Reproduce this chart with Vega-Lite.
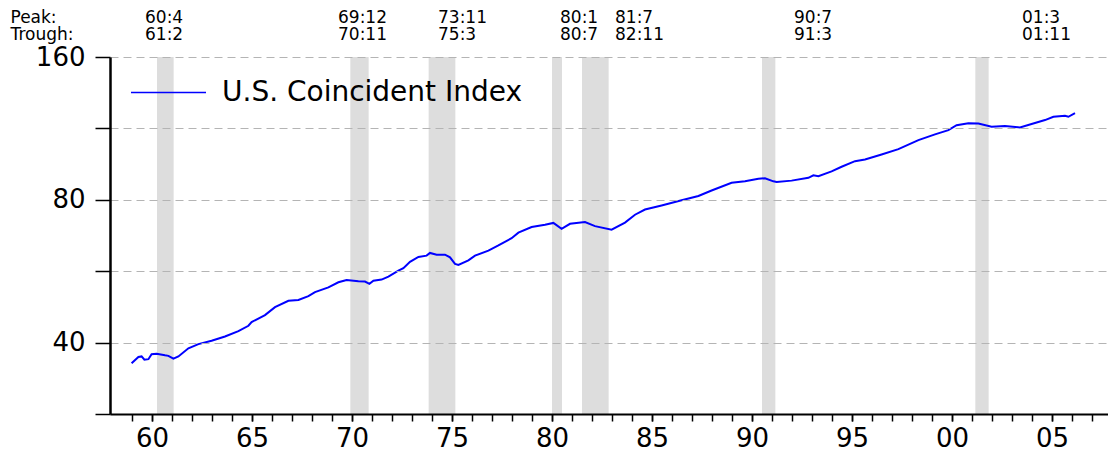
{
  "$schema": "https://vega.github.io/schema/vega-lite/v6.json",
  "padding": {"left": 10, "top": 8, "right": 0, "bottom": 0},
  "spacing": 1,
  "background": "white",
  "config": {
    "view": {"stroke": null},
    "font": "DejaVu Sans",
    "text": {"font": "DejaVu Sans"}
  },
  "datasets": {
    "recessions": [
      {"peak": "60:4", "trough": "61:2", "peakDate": 1960.25, "troughDate": 1961.083, "labelYear": 1959.65},
      {"peak": "69:12", "trough": "70:11", "peakDate": 1969.917, "troughDate": 1970.833, "labelYear": 1969.3},
      {"peak": "73:11", "trough": "75:3", "peakDate": 1973.833, "troughDate": 1975.167, "labelYear": 1974.3},
      {"peak": "80:1", "trough": "80:7", "peakDate": 1980.0, "troughDate": 1980.5, "labelYear": 1980.4},
      {"peak": "81:7", "trough": "82:11", "peakDate": 1981.5, "troughDate": 1982.833, "labelYear": 1983.15},
      {"peak": "90:7", "trough": "91:3", "peakDate": 1990.5, "troughDate": 1991.167, "labelYear": 1992.1},
      {"peak": "01:3", "trough": "01:11", "peakDate": 2001.167, "troughDate": 2001.833, "labelYear": 2003.5}
    ],
    "index": [
      {"year": 1958.98, "index": 36.2},
      {"year": 1959.32, "index": 37.3},
      {"year": 1959.48, "index": 37.4},
      {"year": 1959.62, "index": 36.8},
      {"year": 1959.82, "index": 36.9},
      {"year": 1959.98, "index": 37.8},
      {"year": 1960.23, "index": 37.9},
      {"year": 1960.65, "index": 37.6},
      {"year": 1960.82, "index": 37.5},
      {"year": 1961.07, "index": 37.0},
      {"year": 1961.32, "index": 37.4},
      {"year": 1961.82, "index": 38.9},
      {"year": 1962.32, "index": 39.7},
      {"year": 1962.98, "index": 40.35},
      {"year": 1963.65, "index": 41.2},
      {"year": 1964.32, "index": 42.3},
      {"year": 1964.82, "index": 43.4},
      {"year": 1964.98, "index": 44.2},
      {"year": 1965.65, "index": 45.7},
      {"year": 1966.15, "index": 47.5},
      {"year": 1966.82, "index": 49.0},
      {"year": 1967.32, "index": 49.2},
      {"year": 1967.82, "index": 50.1},
      {"year": 1968.15, "index": 51.1},
      {"year": 1968.82, "index": 52.3},
      {"year": 1969.32, "index": 53.6},
      {"year": 1969.73, "index": 54.2},
      {"year": 1970.32, "index": 53.9},
      {"year": 1970.65, "index": 53.8},
      {"year": 1970.87, "index": 53.2},
      {"year": 1971.07, "index": 54.0},
      {"year": 1971.48, "index": 54.3},
      {"year": 1971.82, "index": 55.1},
      {"year": 1972.32, "index": 56.7},
      {"year": 1972.57, "index": 57.4},
      {"year": 1972.9, "index": 59.2},
      {"year": 1973.32, "index": 60.6},
      {"year": 1973.73, "index": 61.0},
      {"year": 1973.9, "index": 61.8},
      {"year": 1974.23, "index": 61.3},
      {"year": 1974.65, "index": 61.3},
      {"year": 1974.9, "index": 60.5},
      {"year": 1975.15, "index": 58.6},
      {"year": 1975.32, "index": 58.3},
      {"year": 1975.82, "index": 59.6},
      {"year": 1976.15, "index": 61.0},
      {"year": 1976.82, "index": 62.5},
      {"year": 1977.32, "index": 64.1},
      {"year": 1977.98, "index": 66.4},
      {"year": 1978.32, "index": 68.2},
      {"year": 1978.98, "index": 70.1},
      {"year": 1979.65, "index": 70.9},
      {"year": 1980.07, "index": 71.5},
      {"year": 1980.48, "index": 69.5},
      {"year": 1980.9, "index": 71.2},
      {"year": 1981.65, "index": 71.8},
      {"year": 1982.15, "index": 70.4},
      {"year": 1982.98, "index": 69.2},
      {"year": 1983.65, "index": 71.6},
      {"year": 1984.15, "index": 74.4},
      {"year": 1984.65, "index": 76.3},
      {"year": 1985.48, "index": 77.8},
      {"year": 1986.48, "index": 79.8},
      {"year": 1987.32, "index": 81.5},
      {"year": 1987.98, "index": 83.7},
      {"year": 1988.98, "index": 86.9},
      {"year": 1989.65, "index": 87.5},
      {"year": 1990.32, "index": 88.6},
      {"year": 1990.65, "index": 88.8},
      {"year": 1991.07, "index": 87.5},
      {"year": 1991.23, "index": 87.2},
      {"year": 1991.98, "index": 87.8},
      {"year": 1992.82, "index": 89.0},
      {"year": 1993.07, "index": 90.1},
      {"year": 1993.32, "index": 89.7},
      {"year": 1993.98, "index": 91.8},
      {"year": 1994.48, "index": 93.9},
      {"year": 1995.15, "index": 96.5},
      {"year": 1995.65, "index": 97.3},
      {"year": 1996.48, "index": 99.7},
      {"year": 1997.32, "index": 102.3},
      {"year": 1998.32, "index": 106.9},
      {"year": 1999.15, "index": 109.9},
      {"year": 1999.82, "index": 112.2},
      {"year": 2000.23, "index": 114.9},
      {"year": 2000.82, "index": 116.0},
      {"year": 2001.32, "index": 115.8},
      {"year": 2001.98, "index": 114.0},
      {"year": 2002.65, "index": 114.5},
      {"year": 2003.4, "index": 113.7},
      {"year": 2003.98, "index": 115.6},
      {"year": 2004.65, "index": 117.8},
      {"year": 2005.07, "index": 119.7},
      {"year": 2005.65, "index": 120.3},
      {"year": 2005.82, "index": 119.7},
      {"year": 2006.15, "index": 121.8}
    ]
  },
  "vconcat": [
    {
      "width": 998,
      "height": 34,
      "data": {"name": "recessions"},
      "transform": [{"fold": ["peak", "trough"], "as": ["kind", "label"]}],
      "mark": {"type": "text", "align": "left", "baseline": "middle", "fontSize": 17, "font": "DejaVu Sans", "color": "black"},
      "encoding": {
        "x": {"field": "labelYear", "type": "quantitative", "scale": {"domain": [1957.9, 2007.8], "nice": false, "zero": false}, "axis": null},
        "y": {
          "field": "kind", "type": "nominal",
          "scale": {"domain": ["peak", "trough"], "paddingInner": 0, "paddingOuter": 0},
          "axis": {
            "title": null, "domain": false, "ticks": false, "tickSize": 0,
            "labelAlign": "left", "labelPadding": 100, "labelFontSize": 17,
            "labelFont": "DejaVu Sans", "labelColor": "black",
            "labelExpr": "datum.value == 'peak' ? 'Peak:' : 'Trough:'"
          }
        },
        "text": {"field": "label"}
      }
    },
    {
      "width": 998,
      "height": 357,
      "resolve": {"axis": {"x": "independent"}},
      "layer": [
        {
          "data": {"name": "recessions"},
          "mark": {"type": "rect", "color": "#dddddd"},
          "encoding": {
            "x": {
              "field": "peakDate", "type": "quantitative",
              "scale": {"domain": [1957.9, 2007.8], "nice": false, "zero": false},
              "axis": {
                "orient": "bottom", "title": null, "grid": false, "labels": false, "domain": false,
                "values": [1959,1960,1961,1962,1963,1964,1965,1966,1967,1968,1969,1970,1971,1972,1973,1974,1975,1976,1977,1978,1979,1980,1981,1982,1983,1984,1985,1986,1987,1988,1989,1990,1991,1992,1993,1994,1995,1996,1997,1998,1999,2000,2001,2002,2003,2004,2005,2006,2007],
                "tickSize": 7, "tickColor": "black", "tickWidth": 1.5, "zindex": 1
              }
            },
            "x2": {"field": "troughDate"}
          }
        },
        {
          "data": {"name": "index"},
          "mark": {"type": "line", "strokeWidth": 2, "clip": true},
          "encoding": {
            "x": {
              "field": "year", "type": "quantitative",
              "scale": {"domain": [1957.9, 2007.8], "nice": false, "zero": false},
              "axis": {
                "orient": "bottom", "title": null, "grid": false,
                "values": [1960,1965,1970,1975,1980,1985,1990,1995,2000,2005],
                "labelExpr": "slice(toString(datum.value), 2)",
                "labelOverlap": false, "labelFlush": false,
                "tickSize": 7, "tickColor": "black", "tickWidth": 1.5,
                "domainColor": "black", "domainWidth": 2,
                "labelFontSize": 26, "labelFont": "DejaVu Sans", "labelColor": "black",
                "labelPadding": 4, "zindex": 1
              }
            },
            "y": {
              "field": "index", "type": "quantitative",
              "scale": {"type": "log", "domain": [28.28, 160], "nice": false, "zero": false},
              "axis": {
                "title": null,
                "values": [28.28, 40, 56.57, 80, 113.14, 160],
                "labelExpr": "datum.value == 40 || datum.value == 80 || datum.value == 160 ? datum.label : ''",
                "labelOverlap": false, "labelFlush": false,
                "grid": true, "gridDash": [8, 5], "gridColor": "#b4b4b4", "gridWidth": 1,
                "tickSize": 15, "tickColor": "black", "tickWidth": 1.5,
                "domainColor": "black", "domainWidth": 2.5,
                "labelFontSize": 26, "labelFont": "DejaVu Sans", "labelColor": "black",
                "labelPadding": 10, "zindex": 1
              }
            },
            "color": {
              "datum": "U.S. Coincident Index",
              "type": "nominal",
              "scale": {"range": ["#0000ff"]},
              "legend": {
                "orient": "none", "legendX": 20, "legendY": 45,
                "title": null, "padding": 0,
                "symbolType": "stroke", "symbolSize": 5625, "symbolStrokeWidth": 1.5,
                "labelFontSize": 28, "labelFont": "DejaVu Sans", "labelColor": "black",
                "labelOffset": 15, "labelLimit": 800
              }
            }
          }
        },
        {
          "mark": {"type": "rule", "color": "black", "strokeWidth": 2},
          "encoding": {"y": {"datum": 160}}
        }
      ]
    }
  ]
}
